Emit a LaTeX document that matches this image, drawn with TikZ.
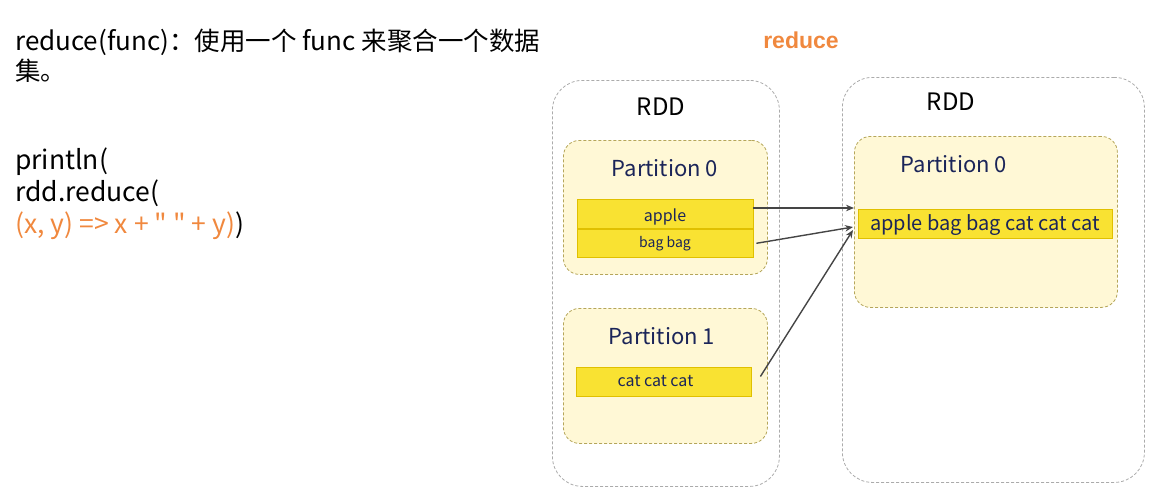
\documentclass[tikz,border=0pt]{standalone}
\usepackage{fontspec}
\setmainfont{Noto Sans CJK SC}
\newfontfamily\cjk{Noto Sans CJK SC}[Scale=0.98]
\newfontfamily\titlefont{Liberation Sans}
\usetikzlibrary{positioning,arrows.meta}

\definecolor{rddgray}{HTML}{ABABAB}
\definecolor{partfill}{HTML}{FFF8D6}
\definecolor{partline}{HTML}{B5A65A}
\definecolor{cellfill}{HTML}{F9E232}
\definecolor{cellline}{HTML}{E0C000}
\definecolor{navy}{HTML}{1B2559}
\definecolor{codeorange}{HTML}{F0883E}
\definecolor{arrowgray}{HTML}{454545}

\begin{document}
\begin{tikzpicture}[
    x=1pt, y=-1pt,
    >={Stealth[length=8pt,width=6.5pt]},
    every node/.style={inner sep=0pt, align=left},
    rddbox/.style={draw=rddgray, dash pattern=on 3pt off 2pt, line width=0.8pt, rounded corners=30pt, anchor=north west},
    partbox/.style={draw=partline, fill=partfill, dash pattern=on 3pt off 2pt, line width=0.8pt, rounded corners=16pt, anchor=north west},
    cell/.style={draw=cellline, fill=cellfill, line width=0.8pt, text=navy, align=center},
    lbl/.style={text=navy, font=\fontsize{22}{26}\selectfont},
    link/.style={->, draw=arrowgray, line width=1.4pt}
]
\useasboundingbox (0,0) rectangle (1162,499);

% left text
\node[anchor=base west, font=\fontsize{26}{30}\selectfont] (desc) at (15,80)
    {reduce(func){\cjk ：使用一个} func {\cjk 来聚合一个数据}\\{\cjk 集。}};
\node[anchor=base west, font=\fontsize{26.5}{32}\selectfont] (code) at (15,233)
    {println(\\rdd.reduce(\\\textcolor{codeorange}{(x, y) => x + \textquotedbl\ \textquotedbl\ + y)})};

\node[font=\titlefont\bfseries\fontsize{23}{26}\selectfont, text=codeorange] (title) at (801,40) {reduce};

% source rdd
\node[rddbox, minimum width=227pt, minimum height=406pt] (lrdd) at (552,80) {};
\node[font=\fontsize{24}{28}\selectfont] (lrddlbl) at (661,107) {RDD};
\node[partbox, minimum width=204pt, minimum height=134pt] (lpart0) at (563,140) {};
\node[lbl] (lpart0lbl) at (665,168) {Partition 0};
\node[cell, minimum width=176pt, minimum height=29pt, text height=19pt, text depth=4pt, font=\fontsize{16}{18}\selectfont] (apple) at (665,214) {apple};
\node[cell, minimum width=176pt, minimum height=28pt, font=\fontsize{14}{16}\selectfont, below=0pt of apple] (bag) {bag bag};
\node[partbox, minimum width=204pt, minimum height=135pt] (lpart1) at (563,308) {};
\node[lbl] (lpart1lbl) at (662,336) {Partition 1};
\node[cell, minimum width=175pt, minimum height=29pt, font=\fontsize{16}{18}\selectfont] (cat) at (663.5,381.5) {cat cat cat\hspace*{16pt}};

% result rdd
\node[rddbox, minimum width=302pt, minimum height=405pt] (rrdd) at (842,77) {};
\node[font=\fontsize{24}{28}\selectfont] (rrddlbl) at (951,102) {RDD};
\node[partbox, minimum width=263pt, minimum height=171pt] (rpart0) at (854,136) {};
\node[lbl] (rpart0lbl) at (954,164) {Partition 0};
\node[cell, minimum width=254pt, minimum height=29pt, text height=19pt, text depth=5pt, font=\fontsize{20}{24}\selectfont] (result) at (985,223.5) {apple bag bag cat cat cat};

\coordinate (tip2) at (853,227);
\coordinate (tip3) at (853,230);
\draw[link] ([yshift=6pt]apple.east) -- ([yshift=6pt]apple.east -| rpart0.west);
\draw[link] ([xshift=3pt]bag.east) -- (tip2);
\draw[link] ([xshift=9pt,yshift=5pt]cat.east) -- (tip3);
\end{tikzpicture}
\end{document}
